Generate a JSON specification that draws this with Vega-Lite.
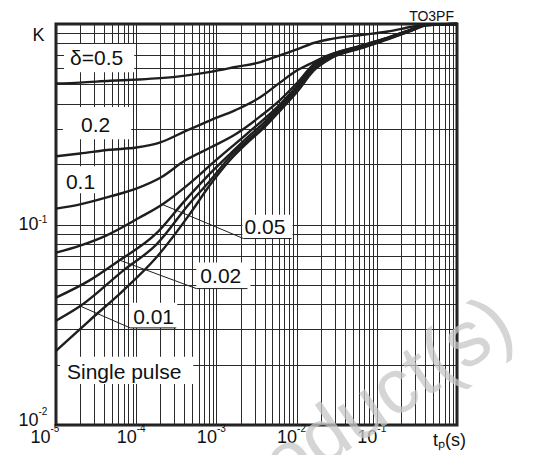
{
  "$schema": "https://vega.github.io/schema/vega-lite/v6.json",
  "width": 401,
  "height": 401,
  "autosize": {"type": "none"},
  "padding": {"left": 56, "top": 24, "right": 100, "bottom": 30},
  "background": "white",
  "config": {
    "view": {"stroke": "#1e1e1e", "strokeWidth": 3},
    "font": "Liberation Sans",
    "axis": {"labelFont": "Liberation Sans", "labelColor": "#111111"}
  },
  "title": {"text": "TO3PF", "anchor": "end", "frame": "group", "fontSize": 14, "fontWeight": "normal", "font": "Liberation Sans", "color": "#111111", "offset": 2, "dx": -3, "dy": 7},
  "datasets": {
    "curves": [
      {"s":"0.5","x":1e-5,"y":0.505},{"s":"0.5","x":2e-5,"y":0.510},{"s":"0.5","x":4.73e-5,"y":0.521},{"s":"0.5","x":1e-4,"y":0.528},{"s":"0.5","x":2e-4,"y":0.537},{"s":"0.5","x":4.1e-4,"y":0.553},{"s":"0.5","x":8.41e-4,"y":0.577},{"s":"0.5","x":1.73e-3,"y":0.610},{"s":"0.5","x":3.55e-3,"y":0.646},{"s":"0.5","x":6.31e-3,"y":0.700},{"s":"0.5","x":1.03e-2,"y":0.750},{"s":"0.5","x":1.63e-2,"y":0.804},{"s":"0.5","x":2.66e-2,"y":0.841},{"s":"0.5","x":6.31e-2,"y":0.881},{"s":"0.5","x":0.137,"y":0.917},{"s":"0.5","x":0.266,"y":0.966},{"s":"0.5","x":0.41,"y":0.994},{"s":"0.5","x":1,"y":1.0},
      {"s":"0.2","x":1e-5,"y":0.219},{"s":"0.2","x":2e-5,"y":0.226},{"s":"0.2","x":4.73e-5,"y":0.236},{"s":"0.2","x":1e-4,"y":0.242},{"s":"0.2","x":2e-4,"y":0.257},{"s":"0.2","x":4.1e-4,"y":0.292},{"s":"0.2","x":8.41e-4,"y":0.331},{"s":"0.2","x":1.73e-3,"y":0.372},{"s":"0.2","x":3.55e-3,"y":0.432},{"s":"0.2","x":6.31e-3,"y":0.513},{"s":"0.2","x":1.03e-2,"y":0.589},{"s":"0.2","x":1.63e-2,"y":0.646},{"s":"0.2","x":2.66e-2,"y":0.705},{"s":"0.2","x":6.31e-2,"y":0.780},{"s":"0.2","x":0.137,"y":0.855},{"s":"0.2","x":0.266,"y":0.937},{"s":"0.2","x":0.41,"y":0.990},{"s":"0.2","x":1,"y":1.0},
      {"s":"0.1","x":1e-5,"y":0.120},{"s":"0.1","x":2e-5,"y":0.126},{"s":"0.1","x":4.73e-5,"y":0.138},{"s":"0.1","x":1e-4,"y":0.151},{"s":"0.1","x":2e-4,"y":0.171},{"s":"0.1","x":4.1e-4,"y":0.209},{"s":"0.1","x":8.41e-4,"y":0.242},{"s":"0.1","x":1.73e-3,"y":0.282},{"s":"0.1","x":3.55e-3,"y":0.347},{"s":"0.1","x":6.31e-3,"y":0.420},{"s":"0.1","x":1.03e-2,"y":0.512},{"s":"0.1","x":1.63e-2,"y":0.628},{"s":"0.1","x":2.66e-2,"y":0.698},{"s":"0.1","x":6.31e-2,"y":0.776},{"s":"0.1","x":0.137,"y":0.853},{"s":"0.1","x":0.266,"y":0.935},{"s":"0.1","x":0.41,"y":0.990},{"s":"0.1","x":1,"y":1.0},
      {"s":"0.05","x":1e-5,"y":0.0724},{"s":"0.05","x":2e-5,"y":0.0785},{"s":"0.05","x":4.22e-5,"y":0.0881},{"s":"0.05","x":1.09e-4,"y":0.108},{"s":"0.05","x":2.18e-4,"y":0.127},{"s":"0.05","x":4.6e-4,"y":0.160},{"s":"0.05","x":9.17e-4,"y":0.204},{"s":"0.05","x":2.44e-3,"y":0.285},{"s":"0.05","x":6.31e-3,"y":0.400},{"s":"0.05","x":1.03e-2,"y":0.494},{"s":"0.05","x":1.63e-2,"y":0.620},{"s":"0.05","x":2.66e-2,"y":0.700},{"s":"0.05","x":6.31e-2,"y":0.774},{"s":"0.05","x":0.137,"y":0.853},{"s":"0.05","x":0.266,"y":0.935},{"s":"0.05","x":0.41,"y":0.990},{"s":"0.05","x":1,"y":1.0},
      {"s":"0.02","x":1e-5,"y":0.0432},{"s":"0.02","x":2.59e-5,"y":0.0525},{"s":"0.02","x":6.13e-5,"y":0.0661},{"s":"0.02","x":1.78e-4,"y":0.0902},{"s":"0.02","x":3.87e-4,"y":0.129},{"s":"0.02","x":7.29e-4,"y":0.170},{"s":"0.02","x":1.5e-3,"y":0.226},{"s":"0.02","x":2.44e-3,"y":0.272},{"s":"0.02","x":3.87e-3,"y":0.320},{"s":"0.02","x":6.31e-3,"y":0.394},{"s":"0.02","x":1.03e-2,"y":0.487},{"s":"0.02","x":1.63e-2,"y":0.612},{"s":"0.02","x":2.66e-2,"y":0.692},{"s":"0.02","x":6.31e-2,"y":0.769},{"s":"0.02","x":0.137,"y":0.848},{"s":"0.02","x":0.266,"y":0.931},{"s":"0.02","x":0.41,"y":0.989},{"s":"0.02","x":1,"y":1.0},
      {"s":"0.01","x":1e-5,"y":0.0331},{"s":"0.01","x":2.05e-5,"y":0.0394},{"s":"0.01","x":6.88e-5,"y":0.0589},{"s":"0.01","x":1.78e-4,"y":0.0794},{"s":"0.01","x":4.6e-4,"y":0.127},{"s":"0.01","x":8.18e-4,"y":0.164},{"s":"0.01","x":1.5e-3,"y":0.219},{"s":"0.01","x":2.44e-3,"y":0.263},{"s":"0.01","x":3.87e-3,"y":0.310},{"s":"0.01","x":6.31e-3,"y":0.383},{"s":"0.01","x":1.03e-2,"y":0.474},{"s":"0.01","x":1.63e-2,"y":0.598},{"s":"0.01","x":2.66e-2,"y":0.682},{"s":"0.01","x":6.31e-2,"y":0.763},{"s":"0.01","x":0.137,"y":0.843},{"s":"0.01","x":0.266,"y":0.926},{"s":"0.01","x":0.41,"y":0.987},{"s":"0.01","x":1,"y":1.0},
      {"s":"single","x":1e-5,"y":0.0234},{"s":"single","x":2.59e-5,"y":0.0331},{"s":"single","x":6.88e-5,"y":0.0468},{"s":"single","x":1.78e-4,"y":0.0684},{"s":"single","x":4.6e-4,"y":0.112},{"s":"single","x":8.18e-4,"y":0.156},{"s":"single","x":1.5e-3,"y":0.211},{"s":"single","x":2.44e-3,"y":0.256},{"s":"single","x":3.87e-3,"y":0.302},{"s":"single","x":6.31e-3,"y":0.372},{"s":"single","x":1.03e-2,"y":0.462},{"s":"single","x":1.63e-2,"y":0.585},{"s":"single","x":2.66e-2,"y":0.673},{"s":"single","x":6.31e-2,"y":0.756},{"s":"single","x":0.137,"y":0.838},{"s":"single","x":0.266,"y":0.922},{"s":"single","x":0.41,"y":0.983},{"s":"single","x":1,"y":1.0}
    ],
    "labels": [
      {"t":"δ=0.5","x":1.50e-5,"y":0.624},
      {"t":"0.2","x":2.05e-5,"y":0.289},
      {"t":"0.1","x":1.33e-5,"y":0.151},
      {"t":"0.05","x":2.24e-3,"y":0.0894},
      {"t":"0.02","x":6.31e-4,"y":0.0513},
      {"t":"0.01","x":9.17e-5,"y":0.0320},
      {"t":"Single pulse","x":1.37e-5,"y":0.0170}
    ],
    "boxes": [
      {"x":1.26e-5,"x2":9.44e-5,"y":0.794,"y2":0.575},
      {"x":1.22e-5,"x2":8.66e-5,"y":0.385,"y2":0.266},
      {"x":1.22e-5,"x2":3.35e-5,"y":0.195,"y2":0.143},
      {"x":2.11e-3,"x2":8.91e-3,"y":0.112,"y2":0.0851},
      {"x":5.62e-4,"x2":2.66e-3,"y":0.0646,"y2":0.0479},
      {"x":8.18e-5,"x2":3.25e-4,"y":0.0407,"y2":0.0305},
      {"x":1.12e-5,"x2":5.16e-4,"y":0.0219,"y2":0.0160}
    ],
    "leaders": [
      {"x":2.11e-4,"y":0.126,"x2":2.18e-3,"y2":0.0851},
      {"x":2.18e-3,"y":0.0851,"x2":8.66e-3,"y2":0.0851},
      {"x":5.96e-5,"y":0.0668,"x2":5.62e-4,"y2":0.0479},
      {"x":5.62e-4,"y":0.0479,"x2":2.44e-3,"y2":0.0479},
      {"x":1.94e-5,"y":0.0394,"x2":8.41e-5,"y2":0.0305},
      {"x":8.41e-5,"y":0.0305,"x2":3.16e-4,"y2":0.0305}
    ],
    "wm": [
      {"t":"Product(s)","x":5.79,"y":0.0279}
    ]
  },
  "layer": [
    {
      "data": {"name": "wm"},
      "mark": {"type": "text", "align": "right", "baseline": "alphabetic", "angle": -34, "fontSize": 78, "color": "#c8c8c8", "opacity": 0.75, "font": "Liberation Sans"},
      "encoding": {
        "x": {"field": "x", "type": "quantitative", "scale": {"type": "log", "domain": [1e-5, 1]}, "axis": null},
        "y": {"field": "y", "type": "quantitative", "scale": {"type": "log", "domain": [0.01, 1]}, "axis": null},
        "text": {"field": "t"}
      }
    },
    {
      "data": {"name": "boxes"},
      "mark": {"type": "rect", "fill": "white"},
      "encoding": {
        "x": {"field": "x", "type": "quantitative", "scale": {"type": "log", "domain": [1e-5, 1]}, "axis": null},
        "x2": {"field": "x2"},
        "y": {"field": "y", "type": "quantitative", "scale": {"type": "log", "domain": [0.01, 1]}, "axis": null},
        "y2": {"field": "y2"}
      }
    },
    {
      "data": {"name": "leaders"},
      "mark": {"type": "rule", "color": "#1e1e1e", "strokeWidth": 1},
      "encoding": {
        "x": {"field": "x", "type": "quantitative", "scale": {"type": "log", "domain": [1e-5, 1]},
          "axis": {"orient": "bottom", "title": null, "values": [1e-5, 1e-4, 1e-3, 0.01, 0.1], "grid": false, "domain": false, "ticks": false, "tickSize": 0,
            "labelExpr": "'-' + abs(round(log(datum.value)/LN10))", "labelFontSize": 10, "labelAlign": "left", "labelBaseline": "top", "labelPadding": -2,
            "labelFlush": false, "labelOverlap": false, "labelBound": false,
            "labelOffset": {"condition": {"test": "datum.value < 2e-5", "value": -6}, "value": 0}}},
        "x2": {"field": "x2"},
        "y": {"field": "y", "type": "quantitative", "scale": {"type": "log", "domain": [0.01, 1]},
          "axis": {"orient": "left", "title": null, "values": [0.01, 0.1], "grid": false, "domain": false, "ticks": false, "tickSize": 0,
            "labelExpr": "'-' + abs(round(log(datum.value)/LN10))", "labelFontSize": 10, "labelAlign": "left", "labelBaseline": "middle", "labelPadding": 18,
            "labelFlush": false, "labelOverlap": false, "labelBound": false,
            "labelOffset": {"condition": {"test": "datum.value < 0.015", "value": -13.5}, "value": -5.5}}},
        "y2": {"field": "y2"}
      }
    },
    {
      "data": {"name": "curves"},
      "mark": {"type": "line", "color": "#1e1e1e", "strokeWidth": 2.4, "interpolate": "monotone"},
      "encoding": {
        "x": {"field": "x", "type": "quantitative", "scale": {"type": "log", "domain": [1e-5, 1]},
          "axis": {"orient": "bottom", "title": null,
            "values": [1e-5,2e-5,3e-5,4e-5,5e-5,6e-5,7e-5,8e-5,9e-5,1e-4,2e-4,3e-4,4e-4,5e-4,6e-4,7e-4,8e-4,9e-4,0.001,0.002,0.003,0.004,0.005,0.006,0.007,0.008,0.009,0.01,0.02,0.03,0.04,0.05,0.06,0.07,0.08,0.09,0.1,0.2,0.3,0.4,0.5,0.6,0.7,0.8,0.9,1],
            "grid": true, "gridColor": "#2a2a2a", "gridWidth": 1, "domain": false, "ticks": false, "tickSize": 0,
            "labelExpr": "abs(log(datum.value)/LN10 - round(log(datum.value)/LN10)) < 0.01 ? (datum.value > 0.5 ? 'tₚ(s)' : '10') : ''",
            "labelFontSize": 18, "labelBaseline": "top",
            "labelAlign": {"condition": {"test": "datum.value > 0.5", "value": "center"}, "value": "right"},
            "labelOffset": {"condition": [{"test": "datum.value < 2e-5", "value": -6}, {"test": "datum.value > 0.5", "value": -8}], "value": 0},
            "labelPadding": {"condition": {"test": "datum.value > 0.5", "value": 6}, "value": 3},
            "labelFlush": false, "labelOverlap": false, "labelBound": false}},
        "y": {"field": "y", "type": "quantitative", "scale": {"type": "log", "domain": [0.01, 1]},
          "axis": {"orient": "left", "title": null,
            "values": [0.01,0.02,0.03,0.04,0.05,0.06,0.07,0.08,0.09,0.1,0.2,0.3,0.4,0.5,0.6,0.7,0.8,0.9,1],
            "grid": true, "gridColor": "#2a2a2a", "gridWidth": 1, "domain": false, "ticks": false, "tickSize": 0,
            "labelExpr": "abs(log(datum.value)/LN10 - round(log(datum.value)/LN10)) < 0.01 ? (datum.value > 0.5 ? 'K' : '10') : ''",
            "labelFontSize": 18, "labelPadding": 18,
            "labelAlign": {"condition": {"test": "datum.value > 0.5", "value": "center"}, "value": "right"},
            "labelBaseline": {"condition": [{"test": "datum.value > 0.5", "value": "top"}, {"test": "datum.value < 0.015", "value": "alphabetic"}], "value": "middle"},
            "labelOffset": {"condition": {"test": "datum.value > 0.5", "value": 2}, "value": 0},
            "labelFlush": false, "labelOverlap": false, "labelBound": false}},
        "detail": {"field": "s", "type": "nominal"}
      }
    },
    {
      "data": {"name": "labels"},
      "mark": {"type": "text", "align": "left", "baseline": "alphabetic", "fontSize": 21, "color": "#111111", "font": "Liberation Sans"},
      "encoding": {
        "x": {"field": "x", "type": "quantitative", "scale": {"type": "log", "domain": [1e-5, 1]}, "axis": null},
        "y": {"field": "y", "type": "quantitative", "scale": {"type": "log", "domain": [0.01, 1]}, "axis": null},
        "text": {"field": "t"}
      }
    }
  ],
  "resolve": {"axis": {"x": "independent", "y": "independent"}}
}
